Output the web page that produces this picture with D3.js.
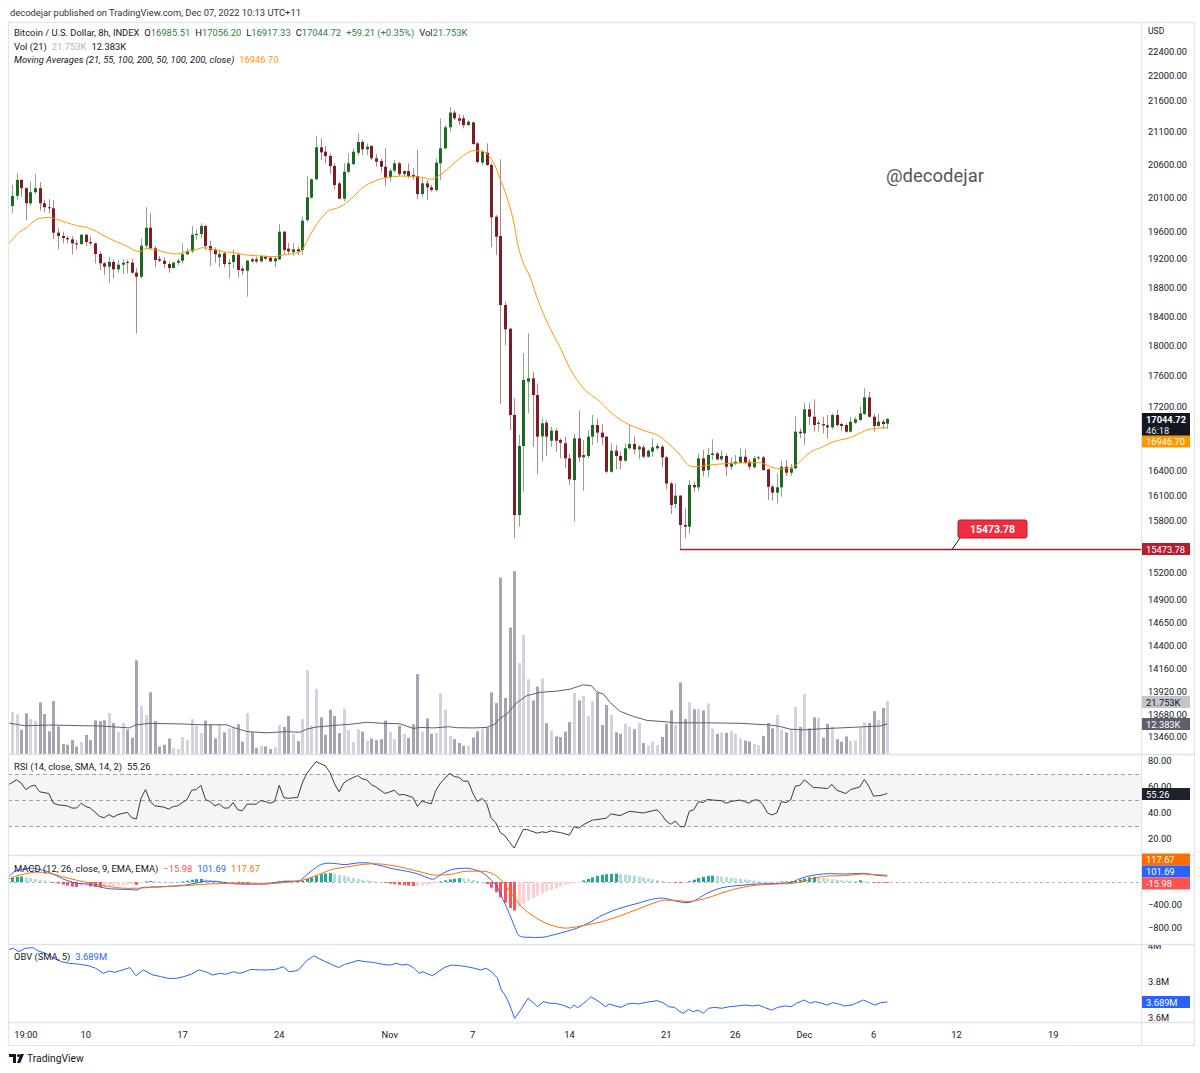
<!DOCTYPE html>
<html><head><meta charset="utf-8">
<script src="https://cdn.jsdelivr.net/npm/d3@7"></script>
<style>
html,body{margin:0;padding:0;background:#fff;}
svg{display:block;}
text{font-family:Roboto,"Liberation Sans",Arial,sans-serif;}
</style></head>
<body>
<svg id="chart" width="1200" height="1073"></svg>
<script>
// ================= DATA (8h bars, first entry = bar -1) =================
const firstBar = -1;
const open = [
19735,19970,20120,20360,20235,20010,20175,20235,20010,19950,
19935,19577,19530,19499,19480,19422,19412,19547,19441,19422,
19269,19136,19088,19155,19051,19116,19155,19145,19003,18946,
19388,19649,19351,19195,19173,19126,19069,19145,19173,19265,
19307,19547,19557,19674,19384,19330,19221,19279,19126,19155,
19259,19059,19031,19193,19193,19164,19231,19216,19164,19193,
19591,19345,19297,19336,19326,19762,20093,20369,20860,20792,
20725,20572,20308,20078,20484,20602,20776,20942,20829,20880,
20690,20648,20561,20399,20500,20613,20449,20495,20434,20419,
20148,20308,20248,20208,20613,20844,21172,21405,21314,21314,
21208,21250,20921,20623,20776,20587,19811,19528,18552,18228,
17095,15870,16706,17524,17568,17351,16826,16997,16771,16896,
16780,16739,16553,16288,16801,16565,16582,16822,16968,16872,
16822,16389,16647,16582,16524,16677,16730,16664,16689,16573,
16635,16677,16697,16565,16246,16000,16100,15752,15733,16228,
16200,16553,16410,16594,16614,16540,16582,16450,16492,16499,
16573,16512,16443,16553,16565,16418,16207,16136,16200,16450,
16377,16430,16884,16864,17167,17073,16981,16981,16964,16939,
17095,16981,16968,16884,16997,17031,17108,17320,17073,16956,
17010,16985.51];
const high = [
19980,20285,20470,20370,20255,20335,20450,20325,20060,20070,
20060,19641,19591,19533,19528,19470,19557,19557,19518,19431,
19302,19159,19231,19193,19183,19197,19183,19202,19065,19495,
19950,19860,19384,19241,19221,19159,19159,19202,19422,19350,
19674,19626,19713,19689,19460,19365,19336,19297,19193,19336,
19279,19088,19183,19212,19231,19255,19250,19231,19231,19703,
19601,19431,19422,19374,19811,20419,20384,21035,20999,20880,
20766,20613,20333,20613,20766,20844,21080,20973,20921,20895,
20756,20690,20844,20536,20664,20638,20510,20613,20536,20818,
20384,20358,20283,20690,21314,21208,21493,21446,21382,21366,
21287,21260,20942,20818,20921,20613,19836,20674,18597,18241,
17309,16843,17896,18165,17654,17502,17052,17031,16947,16926,
16801,16822,16606,16855,17150,16780,16905,17095,17052,16981,
16830,16739,16718,16635,16739,16968,16822,16718,16718,16664,
16801,16739,16718,16582,16267,16246,16108,15949,16288,16267,
16614,16656,16681,16789,16635,16656,16614,16565,16594,16677,
16664,16541,16582,16582,16582,16430,16228,16369,16524,16532,
16483,17082,16926,17245,17245,17296,17031,17073,17095,17116,
17159,16997,16989,17073,17073,17201,17438,17394,17108,17116,
17040,17056.20];
const low = [
19645,19865,20060,20105,19760,19975,20150,19900,19875,19860,
19485,19336,19422,19422,19265,19336,19398,19384,19394,19136,
19041,18970,18862,18924,19003,18984,18994,18984,18166,18924,
19351,19326,19079,19155,19065,19003,19060,19112,19136,19255,
19279,19470,19495,19326,19098,19145,19079,19079,18924,19065,
18938,18970,18667,19145,19136,19145,19183,19155,19079,19183,
19269,19255,19241,19255,19255,19737,20078,20358,20664,20613,
20449,20218,20069,20034,20459,20587,20740,20740,20740,20664,
20561,20470,20268,20333,20470,20419,20399,20384,20358,20069,
20108,20058,20183,20183,20358,20829,21102,21287,21208,21155,
21192,20895,20613,20582,20572,19365,19255,17235,18008,16905,
15598,15732,16148,17117,16697,16361,16511,16582,16697,16635,
16553,16430,16228,15791,16511,16160,16553,16718,16746,16718,
16369,16377,16418,16418,16511,16664,16606,16541,16553,16565,
16573,16656,16442,16176,15882,15949,15473.78,15597,15648,16148,
16160,16330,16325,16532,16532,16524,16337,16410,16471,16492,
16483,16410,16430,16532,16401,16048,16040,16008,16088,16337,
16337,16418,16801,16718,16968,16884,16884,16864,16801,16914,
16947,16896,16872,16872,16981,17022,17095,17065,16884,16947,
16914,16917.33];
const close = [
19970,20120,20360,20235,20010,20175,20235,20010,19950,19935,
19577,19530,19499,19480,19422,19412,19547,19441,19422,19269,
19136,19088,19155,19051,19116,19145,19145,19003,18946,19388,
19649,19351,19183,19173,19126,19069,19145,19173,19265,19307,
19547,19557,19674,19384,19326,19265,19269,19126,19145,19255,
19041,19031,19173,19164,19164,19241,19202,19164,19207,19591,
19326,19307,19336,19307,19752,20099,20369,20860,20782,20725,
20572,20283,20078,20484,20613,20792,20942,20829,20870,20690,
20638,20561,20399,20500,20613,20449,20495,20419,20409,20148,
20308,20248,20208,20623,20844,21172,21405,21314,21276,21208,
21260,20911,20633,20792,20587,19802,19518,18552,18219,17095,
15870,16706,17546,17568,17351,16822,16989,16822,16896,16771,
16746,16553,16297,16801,16565,16594,16822,16968,16872,16814,
16389,16647,16582,16524,16677,16730,16664,16697,16573,16647,
16689,16706,16565,16246,15988,16100,15752,15733,16228,16200,
16553,16401,16594,16614,16540,16582,16450,16499,16512,16573,
16499,16450,16553,16565,16410,16207,16136,16200,16450,16377,
16430,16884,16864,17167,17073,16968,16997,16964,16939,17095,
16968,16956,16884,17010,17040,17116,17320,17073,16956,17010,
16981,17044.72];
// volume in thousands
const volume = [
9.6,17.1,16.3,10.0,16.7,14.3,13.5,21.2,16.4,9.3,
21.7,11.3,4.1,3.8,5.7,3.1,4.9,7.8,5.7,13.8,
13.5,13.8,16.8,12.7,9.2,12.7,10.0,6.7,38.4,19.8,
16.0,25.3,13.5,3.1,3.8,6.4,2.5,2.0,7.0,5.7,
14.3,11.6,8.6,13.7,11.9,6.4,11.9,8.9,10.5,10.8,
12.2,5.1,16.8,8.9,2.5,3.4,3.1,2.0,2.7,11.9,
11.1,15.6,8.3,5.3,14.3,34.4,11.6,26.8,15.0,7.9,
18.2,15.6,8.6,18.7,9.8,4.9,10.2,9.2,5.5,6.4,
5.7,6.1,13.7,9.2,6.1,11.6,8.2,6.6,12.2,32.8,
9.2,14.6,8.3,8.7,24.9,18.2,7.5,6.1,4.5,3.4,
3.4,6.8,9.3,10.5,10.9,25.3,20.9,72.4,23.0,51.9,
75.0,37.3,48.8,30.7,22.0,27.7,31.0,12.6,9.6,7.2,
7.0,9.2,13.1,25.1,22.0,23.9,15.7,21.7,25.1,11.9,
20.1,16.0,8.9,8.3,12.4,11.2,10.2,12.7,4.5,3.4,
5.1,3.7,7.0,12.4,17.9,12.0,29.4,14.3,21.2,18.4,
18.4,17.9,20.8,10.5,8.3,8.9,8.7,9.4,8.3,6.4,
5.5,5.1,4.2,3.7,7.4,12.7,10.5,16.0,10.0,8.9,
10.2,19.3,11.1,24.6,10.5,15.0,14.9,6.7,12.4,11.3,
6.1,5.1,7.2,5.5,5.5,10.9,13.0,12.7,17.6,14.1,
18.9,21.753];
// MACD histogram per bar
const histogram = [
54,72,90,95,81,68,54,40,27,14,
-14,-27,-45,-63,-81,-86,-72,-68,-77,-86,
-95,-90,-81,-72,-63,-54,-45,-40,-50,-20,
10,20,14,11,7,5,3,2,9,22,
40,50,54,45,36,27,18,9,5,-9,
-18,-22,-27,-27,-25,-22,-20,-16,-9,9,
14,16,18,20,27,54,81,108,135,149,
158,144,126,108,90,72,54,40,27,18,
9,4,-14,-27,-40,-50,-54,-63,-72,-68,
-58,-50,-36,-18,9,27,45,58,68,63,
54,36,18,4,-36,-99,-180,-270,-360,-450,
-495,-432,-378,-324,-279,-234,-198,-162,-135,-108,
-81,-54,-36,-18,-5,27,54,81,108,125,
135,140,145,140,130,120,110,95,80,65,
50,35,20,10,3,-15,-20,-10,15,40,
70,90,105,110,105,95,85,75,65,55,
45,35,25,15,10,8,7,6,8,12,
15,20,40,60,80,90,80,70,60,50,
40,30,25,20,15,30,20,8,-5,-10,
-14,-15.98];
// Moving average (21) read at bar positions
const maBar = [-0.8,0.3,1.7,3.2,4.6,6.1,8.2,9.7,11.9,14.0,16.2,18.4,20.6,22.7,24.9,26.7,27.8,29.2,31.4,33.6,35.7,37.9,40.1,41.5,43.7,45.9,48.0,50.9,53.8,56.7,58.9,62.5,64.7,66.8,69.0,70.5,71.9,74.1,76.2,78.4,80.6,82.8,84.9,87.1,89.3,91.1,92.9,95.1,97.2,98.7,100.1,101.9,103.4,104.8,105.9,107.4,108.8,109.9,111.0,112.4,113.9,115.3,116.8,118.9,121.1,124.0,127.6,129.8,132.7,134.8,137.7,140.6,142.8,145.0,146.4,147.9,150.0,151.5,153.6,156.5,159.4,162.3,163.8,165.2,166.7,168.1,169.6,171.0,172.5,173.9,176.1,177.5,179.7,181.9,184.0,185.5,187.6,189.8,190];
const maVal = [19408,19495,19590,19650,19737,19787,19802,19772,19723,19679,19655,19591,19509,19446,19384,19316,19302,19350,19326,19287,19269,19302,19336,19360,19336,19302,19287,19255,19241,19231,19255,19300,19543,19762,19909,19935,19984,20108,20248,20333,20384,20409,20419,20409,20394,20369,20434,20561,20690,20766,20807,20802,20740,20587,20384,20108,19762,19374,19136,18951,18667,18437,18233,17985,17698,17441,17267,17137,17012,16950,16888,16826,16718,16594,16491,16450,16459,16471,16483,16491,16499,16499,16471,16438,16422,16430,16450,16512,16594,16647,16697,16739,16780,16809,16864,16905,16926,16939,16946.70];
// Volume MA (21), thousands
const vmaBar = [-0.8,2.8,8.2,15.5,19.1,25.6,26.7,30,37.2,40.8,46.6,48,51,55.3,59.6,62.5,64,66.1,69.8,73.4,77,80.6,84.2,87.1,88.6,91.5,94.9,96.5,100.1,103,104.8,105.9,107.4,109.5,111.7,114.6,118.2,121.1,124,125.8,126.9,128.4,129.8,132,134.9,137.8,142.1,143.5,150.8,158,164.5,166.7,168.9,171.8,176.1,179.7,184,188.4,190];
const vmaVal = [12.7,11.6,11.9,11.6,11.5,10.7,11.9,12.6,12.3,12.0,12.0,10.9,9.2,8.7,9.2,8.9,10.2,11.1,11.7,12.2,13.0,12.6,12.4,10.5,10.9,10.7,11.2,10.8,10.7,10.9,12.3,14.6,16.4,20.9,23.9,25.3,25.8,26.6,28.4,28.0,25.5,24.6,21.2,17.5,15.4,13.8,13.2,12.8,12.8,12.6,11.9,11.3,10.2,9.9,10.4,10.7,11.1,11.5,12.383];
// RSI (14)
const rsiBar = [-1,1,2,3,4,5,6,8,9,10,12,13,14,15,16,17,19,20,21,22,23,25,26,27,28,29,30,31,33,34,35,36,38,39,40,41,42,43,44,45,46,47,48,49,50,51,53,54,55,56,57,58,59,60,62,63,64,66,68,69,70,71,72,73,75,76,77,78,79,80,81,83,84,85,87,88,89,90,91,92,93,95,96,97,98,99,100,101,102,103,104,105,106,107,108,109,111,112,114,115,116,117,118,119,121,122,123,124,126,127,129,130,132,134,136,137,140,141,142,143,144,145,146,147,148,149,150,151,152,154,155,156,158,159,160,161,162,163,164,165,166,167,168,169,170,171,172,174,175,177,178,179,181,182,184,185,186,187,188,189,190];
const rsiVal = [61.3,65.5,63,58,60.5,61.3,56.3,55,47.5,46.3,45.5,43.8,43.8,47.5,45,43.8,37.5,36.3,38.8,36.8,38.8,40.5,36.3,35.5,51.3,58,48.8,45.5,44.5,43,45,45.5,50.5,57.5,58,61.3,50.5,48.8,45.5,47,43.8,43.8,48,42.5,41.8,46.8,46.8,49.5,48.8,47.5,48.8,61.3,51.8,51.3,52,63,70.5,79.5,76.3,71.3,62.5,56.3,63,65.5,68.8,66.3,65.5,61.8,60,57.5,55,57.5,53.8,54.3,52,45,49.3,48,47,57.5,63,70.5,68,67.5,64.5,64.5,55.5,48.8,51.3,47.5,36.3,32.5,25,22.5,17.5,13,27.5,27,24.5,25.5,25,26.3,25.5,25,23,29.5,28.3,31,34.5,35,36,39.3,38,41.3,40.5,40,42.5,38.8,33.8,31.3,33.8,29.5,29.5,41.3,42.5,48.8,48,50.5,50,49.5,47.5,48.8,50,48.8,47.5,50,50,46.3,40,38.5,40,48.8,48,50,60.5,61.3,65.5,59.5,59.5,58.8,62,57.5,55,58,60,65.8,60.5,53,53.3,53.8,55.26];
// MACD line and signal
const macdBar = [-1,0.7,2.4,4,5.7,7.4,9,10.7,12.4,14,16.5,18.2,19.8,21.5,23.2,25.6,27.1,28.1,29.8,32.3,34.8,37.3,39.8,42.3,44.7,47.2,49.7,52.2,54.7,57.2,59.7,62.2,63,63.9,65.5,67.2,68.8,70.5,72.2,73.8,75.5,77.1,78.8,80.5,82.1,84.6,87.1,88.8,90.4,91.3,92.5,93.8,95.4,97.1,98.7,100.4,102.1,103.7,105.4,106.6,107.9,109.1,110,111.2,113.7,115.4,117,119,121.2,123.7,125.7,127.6,130.1,132.6,135.9,138.4,140.9,142.1,144.2,146.3,147.9,149.6,151.6,154.1,156.6,159.1,161.6,164.1,166.6,169.1,170.7,172.4,174.9,177.4,180.7,184.8,187.3,190];
const macdVal = [67,188,224,240,224,188,136,67,15,-21,-37,-63,-99,-120,-125,-130,-141,-99,-89,-84,-73,-58,-21,15,5,-21,-37,-37,-37,-5,15,15,58,120,224,307,328,318,302,318,334,334,307,276,240,203,162,120,67,47,99,162,214,235,240,214,162,58,-99,-307,-542,-777,-933,-959,-965,-960,-930,-890,-840,-770,-690,-600,-510,-440,-370,-310,-280,-290,-335,-360,-335,-255,-168,-100,-70,-52,-35,-30,-25,-10,46,93,128,145,139,151,122,101.69];
const sigBar = [-1,2.4,5.7,8.2,10.7,14,17.3,20.6,24.8,27.3,30.6,34.8,38.9,43.1,47.2,51.4,55.5,59.7,63,66.3,69.7,72.2,76.3,78.8,82.1,85.4,88.8,92.1,95.4,98.7,102.1,104.5,106.2,107.9,110.4,113.7,117,120.3,122,124.5,127.6,130.1,132.6,135.9,139.2,141.7,144.2,146.7,149.2,151.6,154.1,156.6,159.1,161.6,164.1,166.6,169.1,171.6,174,177.4,180.7,184.8,187.3,190];
const sigVal = [47,135,172,151,99,31,-21,-73,-109,-109,-89,-73,-57,-31,-26,-31,-31,-5,31,120,224,255,307,318,292,240,172,120,135,188,188,135,31,-151,-412,-620,-750,-802,-787,-750,-700,-640,-570,-470,-370,-315,-320,-340,-313,-260,-190,-130,-85,-55,-42,-33,-25,6,64,104,110,139,128,117.67];
// OBV, millions
const obvBar = [-0.94,0.3,1.55,2.8,4.5,5.7,7.4,9.0,10.7,12.35,14.8,16.5,18.2,19.8,21.1,22.3,24,25.6,26.9,28.5,30.6,32.3,33.9,35.6,37.3,38.9,40.6,42.3,43.5,45.2,46.4,48.1,49.3,50.6,51.8,53.9,55.5,57.2,58.9,60.1,61.4,62.2,63.9,65.5,66.8,68,69.7,70.9,72.2,73.8,75.1,76.7,78.4,80.5,82.1,83.4,84.6,85.9,87.1,88.4,89.2,90.4,91.3,92.5,93.8,95.4,97.1,98.7,100.4,101.7,102.9,104.1,105.4,106.2,107,107.9,109.1,110.4,112,113.3,114.1,115.4,116.6,117.8,119.5,121.2,122,122.8,124.1,125.7,127.4,128.8,129.7,130.9,132.2,133.4,134.6,135.9,137.6,140,141.3,142.5,143.8,145,145.8,146.8,147.9,149,150,151.2,152.5,154.1,155.8,157.5,159.1,160.8,162,163.3,164.9,166.2,167.8,169.1,170.3,172,173.2,174.4,175.7,176.9,178.2,179.4,180.7,182.3,184.8,186.1,187.3,188.5,190];
const obvVal = [3.978,3.987,3.968,3.987,3.991,3.972,3.959,3.932,3.913,3.904,3.898,3.891,3.876,3.848,3.861,3.854,3.867,3.880,3.835,3.867,3.839,3.830,3.820,3.820,3.830,3.843,3.867,3.854,3.839,3.848,3.843,3.857,3.848,3.857,3.870,3.867,3.867,3.870,3.885,3.857,3.861,3.867,3.917,3.946,3.928,3.913,3.894,3.880,3.898,3.909,3.920,3.913,3.909,3.898,3.894,3.904,3.894,3.898,3.880,3.848,3.857,3.843,3.835,3.857,3.880,3.894,3.891,3.885,3.876,3.867,3.876,3.857,3.820,3.756,3.728,3.682,3.598,3.644,3.709,3.682,3.663,3.691,3.682,3.682,3.672,3.654,3.672,3.657,3.682,3.718,3.691,3.663,3.678,3.667,3.659,3.676,3.682,3.678,3.687,3.696,3.685,3.663,3.659,3.635,3.626,3.648,3.635,3.644,3.626,3.654,3.659,3.654,3.663,3.667,3.672,3.667,3.672,3.659,3.644,3.659,3.667,3.663,3.682,3.700,3.682,3.691,3.682,3.672,3.685,3.678,3.667,3.672,3.700,3.685,3.672,3.685,3.689];
// axis ticks
const xTickBars = [3,16,37,58,82,100,121,142,157,172,187,205,226];
const xTickLabels = ["19:00","10","17","24","Nov","7","14","21","26","Dec","6","12","19"];
const priceTicks = [22400,22000,21600,21100,20600,20100,19600,19200,18800,18400,18000,17600,17200,16400,16100,15800,15200,14900,14650,14400,14160,13920,13680,13460];
const rsiTicks = [80,60,40,20];
const macdTicks = [-400,-800];
const obvTicks = [4.0,3.8,3.6];
const supportLevel = 15473.78;
const supportFromBar = 145;

// ================= LAYOUT =================
const svg = d3.select("#chart");
const C = {text:"#131722", sub:"#333", border:"#e0e3eb", up:"#1e6823", down:"#7e1b24",
  volUp:"#d1d4dc", volDown:"#a3a6af", ma:"#ff9800", volMa:"#5d606b", rsi:"#3a3a3a",
  macd:"#2962ff", sig:"#ff6d00", obv:"#2962ff", green:"#2b7d3a"};
const FS = 9.4, FA = 9.3;
const PL = 8, PR = 1141, AR = 1195;
const panes = {price:[22,754], rsi:[755,855], macd:[856,944], obv:[945,1022]};

const x = d3.scaleLinear().domain([0,190]).range([12, 887.33]);
const px = k => Math.round(x(k));
const yP = d3.scaleLog().domain([15473.78, 22400]).range([549, 51.5]);
const yV = d3.scaleLinear().domain([0, 21.753]).range([754, 701]);
const yR = d3.scaleLinear().domain([30, 70]).range([826, 774]);
const yM = d3.scaleLinear().domain([0, -800]).range([882, 928]);
const yO = d3.scaleLinear().domain([3.6, 3.8]).range([1018, 982]);

svg.append("rect").attr("width",1200).attr("height",1073).attr("fill","#fff");
const defs = svg.append("defs");
for (const [n,[t,b]] of Object.entries(panes)) {
  defs.append("clipPath").attr("id","c-"+n).append("rect").attr("x",PL).attr("y",t).attr("width",PR-PL).attr("height",b-t);
  defs.append("clipPath").attr("id","a-"+n).append("rect").attr("x",PR).attr("y",t).attr("width",AR-PR).attr("height",b-t);
}

const bars = open.map((o,i)=>({k:firstBar+i, o, h:high[i], l:low[i], c:close[i], v:volume[i], hist:histogram[i]}));
bars.forEach((d,i)=>{
  const prev = i>0 ? bars[i-1].hist : d.hist;
  d.hc = d.hist >= 0 ? (d.hist >= prev ? "#26a69a" : "#b2dfdb") : (d.hist < prev ? "#ff5252" : "#ffcdd2");
});

// ---------- price pane ----------
const gP = svg.append("g").attr("clip-path","url(#c-price)");
gP.append("g").selectAll("rect").data(bars).join("rect")
  .attr("x",d=>px(d.k)-1).attr("width",3)
  .attr("y",d=>yV(d.v)).attr("height",d=>754-yV(d.v))
  .attr("fill",d=>d.c>=d.o?C.volUp:C.volDown);
gP.append("path").datum(vmaBar.map((b,i)=>[b,vmaVal[i]]))
  .attr("d",d3.line().x(d=>x(d[0])).y(d=>yV(d[1])))
  .attr("fill","none").attr("stroke",C.volMa).attr("stroke-width",1);
gP.append("g").selectAll("line").data(bars).join("line")
  .attr("x1",d=>px(d.k)+0.5).attr("x2",d=>px(d.k)+0.5)
  .attr("y1",d=>yP(d.h)).attr("y2",d=>yP(d.l))
  .attr("stroke",d=>d.c>=d.o?C.up:C.down).attr("stroke-opacity",0.55).attr("stroke-width",1);
gP.append("g").selectAll("rect").data(bars).join("rect")
  .attr("x",d=>px(d.k)-1).attr("width",3)
  .attr("y",d=>yP(Math.max(d.o,d.c)))
  .attr("height",d=>Math.max(1, Math.abs(yP(d.o)-yP(d.c))))
  .attr("fill",d=>d.c>=d.o?C.up:C.down);
gP.append("path").datum(maBar.map((b,i)=>[b,maVal[i]]))
  .attr("d",d3.line().curve(d3.curveMonotoneX).x(d=>x(d[0])).y(d=>yP(d[1])))
  .attr("fill","none").attr("stroke",C.ma).attr("stroke-width",1);
// support line + callout
const ySup = Math.round(yP(supportLevel))+0.5;
gP.append("line").attr("x1",px(supportFromBar)).attr("x2",PR).attr("y1",ySup).attr("y2",ySup)
  .attr("stroke","#a0202e").attr("stroke-width",1.3);
gP.append("line").attr("x1",952).attr("y1",ySup).attr("x2",960).attr("y2",538).attr("stroke","#131722").attr("stroke-width",1);
gP.append("rect").attr("x",958).attr("y",520).attr("width",69).attr("height",18).attr("rx",2)
  .attr("fill","#ee2d41").attr("stroke","#b71c2c").attr("stroke-width",1);
gP.append("text").attr("x",992.5).attr("y",529).attr("text-anchor","middle").attr("dominant-baseline","central")
  .attr("font-size",10.5).attr("font-weight","bold").attr("fill","#fff").text(d3.format(".2f")(supportLevel));
// watermark
svg.append("text").attr("x",886).attr("y",182).attr("font-size",18.5).attr("fill","#555").text("@decodejar");

// ---------- RSI pane ----------
const gR = svg.append("g").attr("clip-path","url(#c-rsi)");
gR.append("rect").attr("x",PL).attr("width",PR-PL).attr("y",yR(70)).attr("height",yR(30)-yR(70)).attr("fill","#f5f5f5");
[70,50,30].forEach(v=>gR.append("line").attr("x1",PL).attr("x2",PR).attr("y1",Math.round(yR(v))+0.5).attr("y2",Math.round(yR(v))+0.5)
  .attr("stroke","#9ea1a9").attr("stroke-dasharray","4,3").attr("stroke-width",1));
gR.append("path").datum(rsiBar.map((b,i)=>[b,rsiVal[i]]))
  .attr("d",d3.line().x(d=>x(d[0])).y(d=>yR(d[1])))
  .attr("fill","none").attr("stroke",C.rsi).attr("stroke-width",1);

// ---------- MACD pane ----------
const gM = svg.append("g").attr("clip-path","url(#c-macd)");
gM.append("line").attr("x1",PL).attr("x2",PR).attr("y1",882.5).attr("y2",882.5)
  .attr("stroke","#b2b5be").attr("stroke-dasharray","3,3");
gM.append("g").selectAll("rect").data(bars).join("rect")
  .attr("x",d=>px(d.k)-1).attr("width",3)
  .attr("y",d=>yM(Math.max(0,d.hist))).attr("height",d=>Math.max(0.8,Math.abs(yM(d.hist)-yM(0))))
  .attr("fill",d=>d.hc);
gM.append("path").datum(macdBar.map((b,i)=>[b,macdVal[i]]))
  .attr("d",d3.line().curve(d3.curveMonotoneX).x(d=>x(d[0])).y(d=>yM(d[1])))
  .attr("fill","none").attr("stroke",C.macd).attr("stroke-width",1);
gM.append("path").datum(sigBar.map((b,i)=>[b,sigVal[i]]))
  .attr("d",d3.line().curve(d3.curveMonotoneX).x(d=>x(d[0])).y(d=>yM(d[1])))
  .attr("fill","none").attr("stroke",C.sig).attr("stroke-width",1);

// ---------- OBV pane ----------
const gO = svg.append("g").attr("clip-path","url(#c-obv)");
gO.append("path").datum(obvBar.map((b,i)=>[b,obvVal[i]]))
  .attr("d",d3.line().x(d=>x(d[0])).y(d=>yO(d[1])))
  .attr("fill","none").attr("stroke",C.obv).attr("stroke-width",1);

// ---------- frame ----------
const fr = svg.append("g").attr("fill","none").attr("stroke",C.border);
fr.append("rect").attr("x",PL+0.5).attr("y",22.5).attr("width",AR-PL-1).attr("height",1046-22-1).attr("stroke-width",1.2);
fr.append("line").attr("x1",PR+0.5).attr("x2",PR+0.5).attr("y1",22).attr("y2",1046);
[754.5,855.5,944.5,1022.5].forEach(y=>fr.append("line").attr("x1",PL).attr("x2",AR).attr("y1",y).attr("y2",y).attr("stroke-width",1.6));

// ---------- right axes ----------
function axisLabels(pane, scale, ticks, fmt) {
  const g = svg.append("g").attr("clip-path",`url(#a-${pane})`).append("g").attr("transform",`translate(${PR},0)`);
  g.call(d3.axisRight(scale).tickValues(ticks).tickFormat(fmt).tickSize(0).tickPadding(7));
  g.select(".domain").remove();
  g.attr("font-family",null).attr("font-size",FA);
  g.selectAll("text").attr("fill",C.text);
  return g;
}
axisLabels("price", yP, priceTicks, d3.format(".2f"));
axisLabels("rsi", yR, rsiTicks, d3.format(".2f"));
axisLabels("macd", yM, macdTicks, d3.format(".2f"));
axisLabels("obv", yO, obvTicks, d=>d3.format("~g")(d)+"M");
svg.append("text").attr("x",1148).attr("y",31).attr("dominant-baseline","central").attr("font-size",8.6).attr("fill",C.text).text("USD");

function valBox(yc, txt, bg, fg, h) {
  h = h || 12;
  svg.append("rect").attr("x",PR+1).attr("y",yc-h/2).attr("width",48).attr("height",h).attr("fill",bg);
  svg.append("text").attr("x",1146).attr("y",yc).attr("dominant-baseline","central").attr("font-size",FA).attr("fill",fg).text(txt);
}
// last price box with countdown
svg.append("rect").attr("x",PR+1).attr("y",413).attr("width",48).attr("height",24).attr("fill","#131722");
svg.append("text").attr("x",1146).attr("y",419.5).attr("dominant-baseline","central").attr("font-size",FA).attr("font-weight","bold").attr("fill","#fff").text(d3.format(".2f")(close[close.length-1]));
svg.append("text").attr("x",1146).attr("y",430.5).attr("dominant-baseline","central").attr("font-size",FA).attr("fill","#e8e8e8").text("46:18");
valBox(441.5, d3.format(".2f")(maVal[maVal.length-1]), "#ff9800", "#fff");
valBox(549, d3.format(".2f")(supportLevel), "#b2202e", "#fff");
valBox(702, volume[volume.length-1].toFixed(3)+"K", "#c3c5cc", "#131722");
valBox(724, vmaVal[vmaVal.length-1].toFixed(3)+"K", "#5d606b", "#fff");
valBox(794, rsiVal[rsiVal.length-1].toFixed(2), "#1e222d", "#fff");
valBox(859.5, sigVal[sigVal.length-1].toFixed(2), "#ff6d00", "#fff");
valBox(871.5, macdVal[macdVal.length-1].toFixed(2), "#2962ff", "#fff");
valBox(883.5, histogram[histogram.length-1].toFixed(2), "#ff5252", "#fff");
valBox(1002, obvVal[obvVal.length-1].toFixed(3)+"M", "#2962ff", "#fff");

// ---------- time axis ----------
svg.append("g").selectAll("text").data(xTickBars).join("text")
  .attr("x",d=>x(d)).attr("y",1034).attr("text-anchor","middle").attr("dominant-baseline","central")
  .attr("font-size",FA).attr("fill",C.text).text((d,i)=>xTickLabels[i]);

// ---------- legends ----------
function legend(xp, yc, parts) {
  const t = svg.append("text").attr("x",xp).attr("y",yc).attr("dominant-baseline","central").attr("font-size",FS);
  parts.forEach(p=>t.append("tspan").attr("dx",p[2]||0).attr("fill",p[1]).attr("font-style",p[3]||null).text(p[0]));
  return t;
}
const f2 = d3.format(".2f");
const L = close.length-1;
legend(10, 12, [["decodejar published on TradingView.com, Dec 07, 2022 10:13 UTC+11", "#333"]]);
legend(14, 32, [
  ["Bitcoin / U.S. Dollar, 8h, INDEX", C.text],
  ["O", C.text, 5], [f2(open[L]), C.green],
  ["H", C.text, 5], [f2(high[L]), C.green],
  ["L", C.text, 5], [f2(low[L]), C.green],
  ["C", C.text, 5], [f2(close[L]), C.green],
  ["+59.21 (+0.35%)", C.green, 5],
  ["Vol", C.text, 5], [volume[L].toFixed(3)+"K", C.green]
]);
legend(14, 46, [["Vol (21)", C.text], [volume[L].toFixed(3)+"K", "#b2b5be", 5], [vmaVal[vmaVal.length-1].toFixed(3)+"K", C.text, 5]]);
legend(14, 59, [["Moving Averages (21, 55, 100, 200, 50, 100, 200, close)", C.text, 0, "italic"], [f2(maVal[maVal.length-1]), "#ff9800", 5]]);
legend(14, 766, [["RSI (14, close, SMA, 14, 2)", C.text], [f2(rsiVal[rsiVal.length-1]), C.text, 5]]);
legend(14, 868, [["MACD (12, 26, close, 9, EMA, EMA)", C.text], [f2(histogram[L]), "#ff5252", 5], [f2(macdVal[macdVal.length-1]), "#2962ff", 5], [f2(sigVal[sigVal.length-1]), "#ff6d00", 5]]);
legend(14, 956, [["OBV (SMA, 5)", C.text], [obvVal[obvVal.length-1].toFixed(3)+"M", "#2962ff", 5]]);

// ---------- footer logo ----------
const lg = svg.append("g").attr("fill","#131722");
lg.append("path").attr("d","M9,1054 h7 v9 h-3 v-6 h-4 z");
lg.append("circle").attr("cx",18.5).attr("cy",1055.5).attr("r",1.6);
lg.append("path").attr("d","M20.5,1054 h3.5 l-3.8,9 h-3.3 z");
svg.append("text").attr("x",27).attr("y",1058.5).attr("dominant-baseline","central").attr("font-size",10.3).attr("fill","#131722").text("TradingView");
</script>
</body></html>
